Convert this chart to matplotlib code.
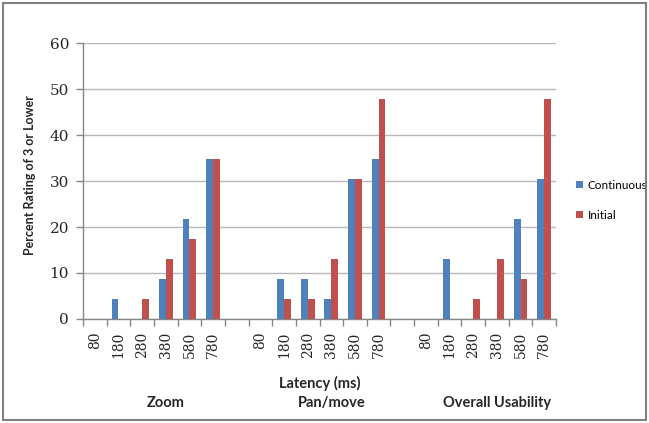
import matplotlib
matplotlib.use("Agg")
import matplotlib.pyplot as plt
from matplotlib.patches import Rectangle
import numpy as np

plt.rcParams["font.family"] = ["Lato", "DejaVu Sans"]

# share of ratings at 3 or lower, per latency, for each task
latencies = ["80", "180", "280", "380", "580", "780"]
groups = ["Zoom", "Pan/move", "Overall Usability"]
continuous_zoom = [0, 4.35, 0, 8.7, 21.74, 34.78]
initial_zoom = [0, 0, 4.35, 13.04, 17.39, 34.78]
continuous_pan = [0, 8.7, 8.7, 4.35, 30.43, 34.78]
initial_pan = [0, 4.35, 4.35, 13.04, 30.43, 47.83]
continuous_overall = [0, 13.04, 0, 0, 21.74, 30.43]
initial_overall = [0, 0, 4.35, 13.04, 8.7, 47.83]

blue = "#4f81bd"
red = "#c0504d"
text_col = "#262626"

continuous = [continuous_zoom, continuous_pan, continuous_overall]
initial = [initial_zoom, initial_pan, initial_overall]

# each group takes 6 slots followed by one empty slot
slot = len(latencies) + 1
n_slots = slot * len(groups) - 1

xs, cont_vals, init_vals, labels = [], [], [], []
for g in range(len(groups)):
    for i, lat in enumerate(latencies):
        xs.append(g * slot + i)
        cont_vals.append(continuous[g][i])
        init_vals.append(initial[g][i])
        labels.append(lat)
xs = np.array(xs)

fig = plt.figure(figsize=(6.49, 4.23), dpi=100)
ax = fig.add_axes([83 / 649, 1 - 319 / 423, 473 / 649, 276 / 423])

w = 0.29
ax.bar(xs - w / 2, cont_vals, w, color=blue, label="Continuous", zorder=3)
ax.bar(xs + w / 2, init_vals, w, color=red, label="Initial", zorder=3)

ax.set_xlim(-0.5, n_slots - 0.5)
ax.set_ylim(0, 60)
ax.set_yticks(range(0, 61, 10))
ax.yaxis.grid(True, color="#b8b8b8", linewidth=1.0, zorder=0)
ax.set_axisbelow(True)

ax.set_xticks(xs)
ax.set_xticklabels(labels, rotation=90, fontsize=10, family="DejaVu Serif", color=text_col)
ax.set_xticks(np.arange(-0.5, n_slots, 1.0), minor=True)
ax.tick_params(axis="x", which="major", length=0, pad=9)
ax.tick_params(axis="x", which="minor", length=5, color="#868686", width=1)
ax.tick_params(axis="y", length=5, color="#868686", width=1, pad=5)
for t in ax.get_yticklabels():
    t.set_family("DejaVu Serif")
    t.set_fontsize(11)
    t.set_color(text_col)

for side in ["top", "right"]:
    ax.spines[side].set_visible(False)
for side in ["left", "bottom"]:
    ax.spines[side].set_color("#868686")
    ax.spines[side].set_linewidth(1.0)

fig.text(30 / 649, 1 - 175 / 423, "Percent Rating of 3 or Lower", rotation=90,
         ha="center", va="center", fontsize=9, fontweight="bold", color=text_col)

# axis title and group names under the tick labels
fig.text((83 + 473 * (9.5 + 0.5) / n_slots) / 649, 1 - 383 / 423, "Latency (ms)",
         ha="center", va="center", fontsize=10.5, fontweight="bold", color=text_col)
for g, name in enumerate(groups):
    cx = g * slot + 3
    fig.text((83 + 473 * (cx + 0.5) / n_slots) / 649, 1 - 403 / 423, name,
             ha="center", va="center", fontsize=10.5, fontweight="bold", color=text_col)

ax.legend(loc="center left", bbox_to_anchor=(1.02, 0.43), frameon=False,
          fontsize=8.5, handlelength=0.6, handleheight=0.6, handletextpad=0.4,
          labelspacing=1.6)

# chart border
fig.patches.append(Rectangle((3 / 649, 3 / 423), 643 / 649, 417 / 423,
                             transform=fig.transFigure, fill=False,
                             edgecolor="#7f7f7f", linewidth=1.5))

fig.savefig("out.png", dpi=100)
